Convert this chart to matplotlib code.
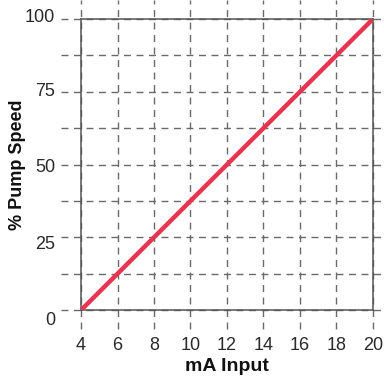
import matplotlib.pyplot as plt
import numpy as np

# chart data
ma_input = [4, 20]
pump_speed = [0, 100]
x_ticks = [4, 6, 8, 10, 12, 14, 16, 18, 20]
y_grid = [0, 12.5, 25, 37.5, 50, 62.5, 75, 87.5, 100]
y_labels = ['0', '25', '50', '75', '100']
y_label_vals = [0, 25, 50, 75, 100]

plt.rcParams['font.family'] = ['Liberation Sans Narrow', 'Liberation Sans', 'DejaVu Sans']

fig = plt.figure(figsize=(3.84, 3.81), dpi=100)
ax = fig.add_axes([0.211, 0.186, 0.760, 0.764])
ax.set_xlim(4, 20)
ax.set_ylim(0, 100)

grid_kw = dict(color='#6a6a6a', lw=1.0, dashes=(5, 4), clip_on=False, zorder=1)
for x in x_ticks:
    ax.plot([x, x], [-6.5, 106.5], **grid_kw)
for y in y_grid:
    ax.plot([2.9, 20.5], [y, y], **grid_kw)

ax.plot(ma_input, pump_speed, color='#e8344e', lw=3.2, solid_capstyle='butt', zorder=3)

for s in ax.spines.values():
    s.set_color('#555555')
    s.set_linewidth(1.1)

ax.set_xticks([])
ax.set_yticks([])

# tick labels
for x in x_ticks:
    ax.text(x, -12, str(x), ha='center', va='center', fontsize=13, color='#2a2a2a')
offsets = [-3.4, -2.4, -1, 0, 0.7]
for v, lab, off in zip(y_label_vals, y_labels, offsets):
    ax.text(2.57, v + off, lab, ha='right', va='center', fontsize=13, color='#2a2a2a')

fig.text(0.59, 0.037, 'mA Input', ha='center', va='center', fontsize=14,
         fontweight='bold', color='#111111')
fig.text(0.045, 0.567, '% Pump Speed', ha='center', va='center', rotation=90,
         fontsize=13, fontweight='bold', color='#111111')

fig.savefig('out.png', dpi=100, facecolor='white')
